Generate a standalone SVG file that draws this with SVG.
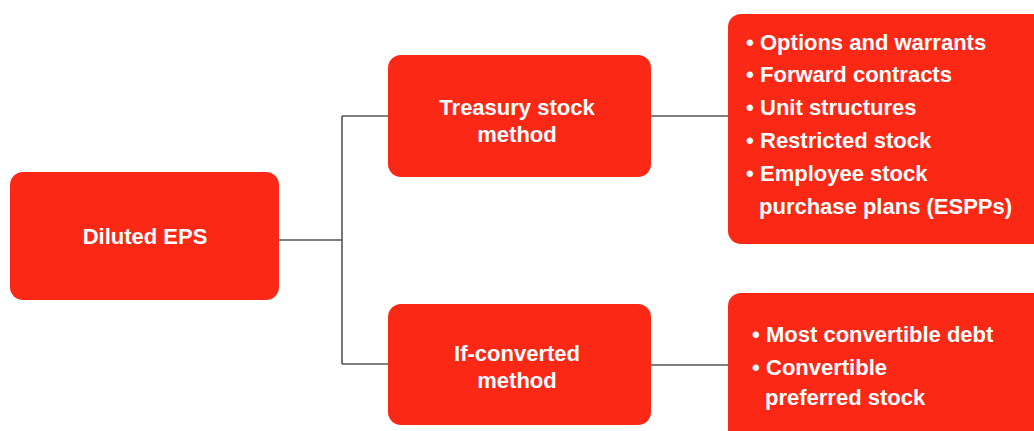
<svg xmlns="http://www.w3.org/2000/svg" width="1034" height="431" viewBox="0 0 1034 431">
<style>
.box{fill:#FC2816;}
.t{font-family:"Liberation Sans",Arial,sans-serif;font-weight:bold;font-size:22px;fill:#fff;}
.c{text-anchor:middle;}
.ln{stroke:#555;stroke-width:1.6;fill:none;}
</style>
<rect width="1034" height="431" fill="#fff"/>
<g id="connectors">
<path class="ln" d="M279 240 H342 M342 116 V364 M342 116 H388 M342 364 H388 M651 116 H728 M651 365 H728"/>
</g>
<g id="diluted">
<rect class="box" x="10" y="172" width="269" height="128" rx="13"/>
<text class="t c" x="145" y="244">Diluted EPS</text>
</g>
<g id="treasury">
<rect class="box" x="388" y="55" width="263" height="122" rx="13"/>
<text class="t c" x="517" y="115">Treasury stock</text>
<text class="t c" x="517" y="142">method</text>
</g>
<g id="ifconverted">
<rect class="box" x="388" y="304" width="263" height="121" rx="13"/>
<text class="t c" x="517" y="361">If-converted</text>
<text class="t c" x="517" y="388">method</text>
</g>
<g id="treasury-list">
<rect class="box" x="728" y="14" width="320" height="230" rx="13"/>
<text class="t" x="746" y="50">•<tspan x="760">Options and warrants</tspan></text>
<text class="t" x="746" y="82">•<tspan x="760">Forward contracts</tspan></text>
<text class="t" x="746" y="115">•<tspan x="760">Unit structures</tspan></text>
<text class="t" x="746" y="148">•<tspan x="760">Restricted stock</tspan></text>
<text class="t" x="746" y="181">•<tspan x="760">Employee stock</tspan></text>
<text class="t" x="759" y="214">purchase plans (ESPPs)</text>
</g>
<g id="ifconverted-list">
<rect class="box" x="728" y="293" width="320" height="150" rx="13"/>
<text class="t" x="752" y="342">•<tspan x="766">Most convertible debt</tspan></text>
<text class="t" x="752" y="375">•<tspan x="766">Convertible</tspan></text>
<text class="t" x="765" y="405">preferred stock</text>
</g>
</svg>
